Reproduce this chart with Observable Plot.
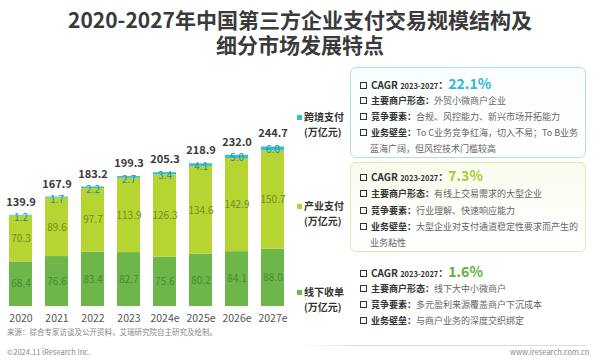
<!DOCTYPE html>
<html>
<head>
<meta charset="utf-8">
<script src="https://cdn.jsdelivr.net/npm/d3@7"></script>
<script src="https://cdn.jsdelivr.net/npm/@observablehq/plot@0.6"></script>
<style>
  html, body { margin: 0; padding: 0; background: #fff; }
  #root { position: relative; width: 600px; height: 361px; overflow: hidden; font-family: "Noto Sans CJK SC", "Noto Sans", sans-serif; color: #333; }
  .abs { position: absolute; white-space: nowrap; }
  .title { left: 0; width: 600px; text-align: center; font-size: 21px; font-weight: 700; color: #3a3a3a; line-height: 25px; }
  .leg { font-size: 10px; font-weight: 700; color: #333; line-height: 14px; }
  .sq { position: absolute; width: 5px; height: 5px; }
  .box { position: absolute; left: 350px; width: 236px; border-radius: 6px; box-sizing: border-box; }
  .ln { position: absolute; left: 360px; font-size: 9px; line-height: 16px; height: 16px; color: #666; white-space: nowrap; }
  .ln b { color: #333; font-weight: 700; }
  .cb { display: inline-block; width: 5px; height: 5px; border: 1.2px solid #333; margin-right: 4px; vertical-align: 0px; }
  .ind { left: 370px; }
  .cagr { font-size: 10px; font-weight: 700; color: #333; }
  .cagr small { font-size: 7.5px; font-weight: 700; }
  .cagr .v { font-size: 14px; font-weight: 700; }
  .foot { font-size: 7.5px; color: #888; line-height: 10px; }
</style>
</head>
<body>
<div id="root">
  <div class="abs title" style="top:7px;">2020-2027年中国第三方企业支付交易规模结构及<br>细分市场发展特点</div>
  <div id="chart" class="abs" style="left:0;top:0;"></div>
  <div id="legend"></div>
  <div id="boxes"></div>
  <div class="abs" style="left:300px;top:345px;width:285px;height:1px;background:linear-gradient(to right, rgba(221,221,221,0), #ddd 20%);"></div>
  <div class="abs foot" style="left:7px;top:327px;">来源：综合专家访谈及公开资料，艾瑞研究院自主研究及绘制。</div>
  <div class="abs foot" style="left:7px;top:347px;">©2024.11 iResearch Inc.</div>
  <div class="abs foot" style="left:510px;top:347px;">www.iresearch.com.cn</div>
</div>
<script>
const years = ["2020", "2021", "2022", "2023", "2024e", "2025e", "2026e", "2027e"];
const offline = [68.4, 76.6, 83.4, 82.7, 75.6, 80.2, 84.1, 88.0];
const industry = [70.3, 89.6, 97.7, 113.9, 126.3, 134.6, 142.9, 150.7];
const crossBorder = [1.2, 1.7, 2.2, 2.7, 3.4, 4.1, 5.0, 6.0];
const totals = [139.9, 167.9, 183.2, 199.3, 205.3, 218.9, 232.0, 244.7];
const seriesNames = ["线下收单", "产业支付", "跨境支付"];
const seriesColors = ["#6cb64a", "#b7d532", "#36bfd6"];
const labelColors = ["#4b8a30", "#6f8d1b", "#2a8c9c"];

const rows = [];
years.forEach((y, i) => {
  rows.push({year: y, series: seriesNames[0], value: offline[i]});
  rows.push({year: y, series: seriesNames[1], value: industry[i]});
  rows.push({year: y, series: seriesNames[2], value: crossBorder[i]});
});

const fmt = v => v.toFixed(1);
const chart = Plot.plot({
  width: 300,
  height: 330,
  marginLeft: 7,
  marginRight: 15,
  marginTop: 143,
  marginBottom: 24,
  style: {fontFamily: '"Noto Sans CJK SC", "Noto Sans", sans-serif', background: "transparent", overflow: "visible"},
  x: {domain: years, paddingInner: 0.37, paddingOuter: 0, label: null},
  y: {domain: [0, 250], axis: null},
  color: {domain: seriesNames, range: seriesColors},
  marks: [
    Plot.barY(rows, {x: "year", y: "value", fill: "series", order: seriesNames}),
    Plot.text(years, {x: d => d, y: (d, i) => offline[i] / 2, text: (d, i) => fmt(offline[i]), fill: labelColors[0], fontSize: 10}),
    Plot.text(years, {x: d => d, y: (d, i) => offline[i] + industry[i] / 2, text: (d, i) => fmt(industry[i]), fill: labelColors[1], fontSize: 10}),
    Plot.text(years, {x: d => d, y: (d, i) => totals[i], dy: 3, text: (d, i) => fmt(crossBorder[i]), fill: labelColors[2], fontSize: 10}),
    Plot.text(years, {x: d => d, y: (d, i) => totals[i], dy: -13, text: (d, i) => fmt(totals[i]), fill: "#3a3a3a", fontSize: 11, fontWeight: "bold"}),
    Plot.axisX({tickSize: 0, tickPadding: 8, fontSize: 10.5, color: "#555"})
  ]
});
document.getElementById("chart").appendChild(chart);

// legend
const legendItems = [
  {name: seriesNames[2], color: seriesColors[2], top: 110},
  {name: seriesNames[1], color: seriesColors[1], top: 199},
  {name: seriesNames[0], color: seriesColors[0], top: 285}
];
const leg = document.getElementById("legend");
legendItems.forEach(it => {
  leg.insertAdjacentHTML("beforeend",
    `<div class="sq" style="left:297px;top:${it.top + 5}px;background:${it.color};"></div>
     <div class="abs leg" style="left:304px;top:${it.top}px;">${it.name}</div>
     <div class="abs leg" style="left:304px;top:${it.top + 15}px;">(万亿元)</div>`);
});

// boxes
const cagrValues = ["22.1%", "7.3%", "1.6%"];
const cagrColors = ["#2fb9d5", "#a9cc2c", "#5fae3e"];
const boxLines = [
  [["主要商户形态：", "外贸小微商户企业"], ["竞争要素：", "合规、风控能力、新兴市场开拓能力"], ["业务壁垒：", "To C业务竞争红海，切入不易；To B业务"], ["", "蓝海广阔，但风控技术门槛较高"]],
  [["主要商户形态：", "有线上交易需求的大型企业"], ["竞争要素：", "行业理解、快速响应能力"], ["业务壁垒：", "大型企业对支付通道稳定性要求而产生的"], ["", "业务粘性"]],
  [["主要商户形态：", "线下大中小微商户"], ["竞争要素：", "多元盈利来源覆盖商户下沉成本"], ["业务壁垒：", "与商户业务的深度交织绑定"]]
];
const lineTops = [[83, 101, 117, 133, 149], [175, 194, 211, 227, 243], [271, 289, 305, 321]];
const boxes = document.getElementById("boxes");
boxes.insertAdjacentHTML("beforeend",
  `<div class="box" style="top:67px;height:91px;border:1px solid #a9e1e5;background:linear-gradient(#fbfefe,#fff);"></div>
   <div class="box" style="top:162px;height:90px;border:1px solid #dde9b0;background:linear-gradient(#f8fbec,#fff 80%);"></div>`);
boxLines.forEach((lines, b) => {
  const tops = lineTops[b];
  boxes.insertAdjacentHTML("beforeend",
    `<div class="ln cagr" style="top:${tops[0] - 9}px;line-height:18px;height:18px;"><span class="cb"></span>CAGR <small>2023-2027</small>：<span class="v" style="color:${cagrColors[b]}">${cagrValues[b]}</span></div>`);
  lines.forEach((l, j) => {
    const t = tops[j + 1] - 8;
    if (l[0] === "") {
      boxes.insertAdjacentHTML("beforeend", `<div class="ln ind" style="top:${t}px;">${l[1]}</div>`);
    } else {
      boxes.insertAdjacentHTML("beforeend", `<div class="ln" style="top:${t}px;"><span class="cb"></span><b>${l[0]}</b>${l[1]}</div>`);
    }
  });
});
</script>
</body>
</html>
